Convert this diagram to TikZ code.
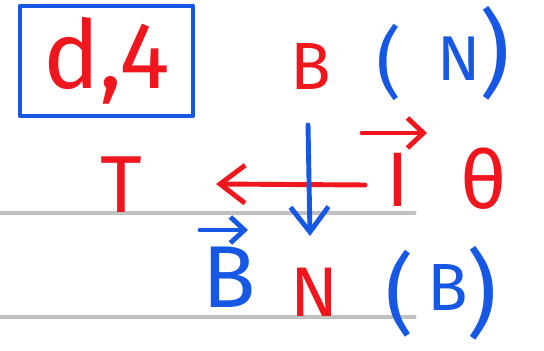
\documentclass[tikz,border=0pt]{standalone}
\usepackage{fontspec}
\setmainfont{Fira Sans}
\usepackage{tikz,tkz-euclide}
\usetikzlibrary{arrows.meta}
\definecolor{inkred}{RGB}{240,22,30}
\definecolor{inkblue}{RGB}{22,88,228}
\definecolor{ruled}{RGB}{192,192,192}
\newcommand{\inksize}[1]{\fontsize{#1}{#1}\selectfont}

\begin{document}
\begin{tikzpicture}[scale=1,>={Straight Barb[length=2.5mm,width=3.8mm]}, line join=round, line cap=round,
	red ink/.style={text=inkred, inner sep=0pt},
	blue ink/.style={text=inkblue, inner sep=0pt},
	stroke/.style={line width=1.4pt}]
	\useasboundingbox (0,0) rectangle (5.44,3.5);
	\tkzDefPoints{0/1.37/L1,4.15/1.37/L2,0/0.33/M1,4.15/0.33/M2}
	\tkzDefPoints{3.65/1.65/P,2.16/1.66/Q,3.08/2.25/U,3.10/1.14/V}
	\tkzDefPoints{3.62/2.17/I1,4.27/2.17/I2,2.00/1.20/B1,2.48/1.20/B2}
	% ruled lines of the page
	\tkzDrawSegments[ruled,line width=0.9pt](L1,L2 M1,M2)
	% boxed answer
	\node[draw=inkblue, line width=1.3pt, text=inkred, minimum width=1.73cm, minimum height=0.98cm,
		font=\inksize{27}] (ans) at (1.065,2.89) {d,4};
	% labels
	\node[red ink, font=\inksize{19}] (Btop) at (3.11,2.83) {B};
	\node[blue ink, font=\inksize{22}] (lpa) at (3.89,2.88) {(};
	\node[blue ink, font=\inksize{18}] (Ntop) at (4.59,2.91) {N};
	\node[blue ink, font=\inksize{27}] (rpa) at (4.95,2.97) {)};
	\node[red ink, font=\inksize{23}] (T) at (1.21,1.65) {T};
	\node[red ink, font=\inksize{22}] (I) at (3.98,1.70) {I};
	\node[red ink, font=\inksize{23}] (th) at (4.84,1.71) {θ};
	\node[blue ink, font=\inksize{25}] (Bvec) at (2.29,0.73) {B};
	\node[red ink, font=\inksize{20}] (Nbot) at (3.14,0.58) {N};
	\node[blue ink, font=\inksize{25}] (lpb) at (4.00,0.56) {(};
	\node[blue ink, font=\inksize{19}] (Bbot) at (4.48,0.63) {B};
	\node[blue ink, font=\inksize{27}] (rpb) at (4.82,0.57) {)};
	% arrows
	\draw[->,inkred,stroke] (P) -- (Q);
	\draw[->,inkblue,stroke] (U) -- (V);
	\draw[->,inkred,stroke,>={Straight Barb[length=1.6mm,width=3mm]}] (I1) -- (I2);
	\draw[->,inkblue,stroke,>={Straight Barb[length=1.4mm,width=2.6mm]}] (B1) -- (B2);
\end{tikzpicture}
\end{document}
